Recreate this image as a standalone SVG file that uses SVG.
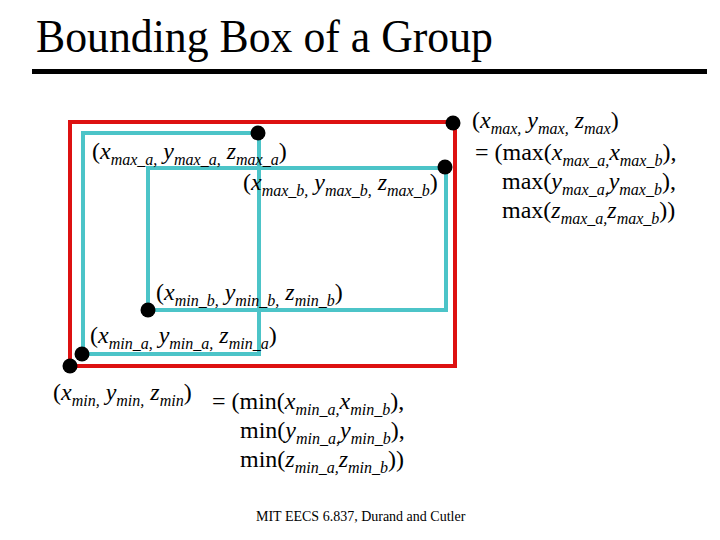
<svg xmlns="http://www.w3.org/2000/svg" width="720" height="540" viewBox="0 0 720 540">
<style>
.t{font-size:24px;fill:#000}
.i{font-style:italic}
.s{font-size:16px;font-style:italic}
.red{fill:none;stroke:#dd1111;stroke-width:4}
.teal{fill:none;stroke:#4cc4c8;stroke-width:4}
.dot{fill:#000}
</style>
<rect width="720" height="540" fill="#fff"/>
<g font-family="Liberation Serif">
<g id="title">
<text x="36" y="52" font-size="47" textLength="457" lengthAdjust="spacingAndGlyphs">Bounding Box of a Group</text>
<line x1="32" y1="71.5" x2="707" y2="71.5" stroke="#000" stroke-width="5"/>
</g>
<g id="box-group"><rect class="red" x="70" y="122" width="385" height="244"/></g>
<g id="box-a"><rect class="teal" x="83" y="133" width="176" height="221"/></g>
<g id="box-b"><rect class="teal" x="148" y="168" width="298" height="142"/></g>
<g id="connectors"></g>
<g id="dots">
<circle class="dot" cx="258" cy="133" r="7.5"/>
<circle class="dot" cx="445" cy="167" r="7.5"/>
<circle class="dot" cx="453" cy="123" r="7.5"/>
<circle class="dot" cx="148" cy="310" r="7.5"/>
<circle class="dot" cx="82" cy="354" r="7.5"/>
<circle class="dot" cx="70" cy="366" r="7.5"/>
</g>
<g id="label-max-a"><text class="t" x="92" y="159">(<tspan class="i">x</tspan><tspan class="s" dy="6">max_a</tspan><tspan class="s">,</tspan><tspan dy="-6"> </tspan><tspan class="i">y</tspan><tspan class="s" dy="6">max_a</tspan><tspan class="s">,</tspan><tspan dy="-6"> </tspan><tspan class="i">z</tspan><tspan class="s" dy="6">max_a</tspan><tspan dy="-6">)</tspan></text></g>
<g id="label-max-b"><text class="t" x="243" y="190">(<tspan class="i">x</tspan><tspan class="s" dy="6">max_b</tspan><tspan class="s">,</tspan><tspan dy="-6"> </tspan><tspan class="i">y</tspan><tspan class="s" dy="6">max_b</tspan><tspan class="s">,</tspan><tspan dy="-6"> </tspan><tspan class="i">z</tspan><tspan class="s" dy="6">max_b</tspan><tspan dy="-6">)</tspan></text></g>
<g id="label-min-b"><text class="t" x="156" y="300">(<tspan class="i">x</tspan><tspan class="s" dy="6">min_b</tspan><tspan class="s">,</tspan><tspan dy="-6"> </tspan><tspan class="i">y</tspan><tspan class="s" dy="6">min_b</tspan><tspan class="s">,</tspan><tspan dy="-6"> </tspan><tspan class="i">z</tspan><tspan class="s" dy="6">min_b</tspan><tspan dy="-6">)</tspan></text></g>
<g id="label-min-a"><text class="t" x="90" y="343">(<tspan class="i">x</tspan><tspan class="s" dy="6">min_a</tspan><tspan class="s">,</tspan><tspan dy="-6"> </tspan><tspan class="i">y</tspan><tspan class="s" dy="6">min_a</tspan><tspan class="s">,</tspan><tspan dy="-6"> </tspan><tspan class="i">z</tspan><tspan class="s" dy="6">min_a</tspan><tspan dy="-6">)</tspan></text></g>
<g id="label-max">
<text class="t" x="472" y="128">(<tspan class="i">x</tspan><tspan class="s" dy="6">max</tspan><tspan class="s">,</tspan><tspan dy="-6"> </tspan><tspan class="i">y</tspan><tspan class="s" dy="6">max</tspan><tspan class="s">,</tspan><tspan dy="-6"> </tspan><tspan class="i">z</tspan><tspan class="s" dy="6">max</tspan><tspan dy="-6">)</tspan></text>
<text class="t" x="475" y="160">= (max(<tspan class="i">x</tspan><tspan class="s" dy="6">max_a</tspan><tspan class="s">,</tspan><tspan class="i" dy="-6">x</tspan><tspan class="s" dy="6">max_b</tspan><tspan dy="-6">),</tspan></text>
<text class="t" x="502" y="189">max(<tspan class="i">y</tspan><tspan class="s" dy="6">max_a</tspan><tspan class="s">,</tspan><tspan class="i" dy="-6">y</tspan><tspan class="s" dy="6">max_b</tspan><tspan dy="-6">),</tspan></text>
<text class="t" x="502" y="218">max(<tspan class="i">z</tspan><tspan class="s" dy="6">max_a</tspan><tspan class="s">,</tspan><tspan class="i" dy="-6">z</tspan><tspan class="s" dy="6">max_b</tspan><tspan dy="-6">))</tspan></text>
</g>
<g id="label-min">
<text class="t" x="53" y="400">(<tspan class="i">x</tspan><tspan class="s" dy="6">min</tspan><tspan class="s">,</tspan><tspan dy="-6"> </tspan><tspan class="i">y</tspan><tspan class="s" dy="6">min</tspan><tspan class="s">,</tspan><tspan dy="-6"> </tspan><tspan class="i">z</tspan><tspan class="s" dy="6">min</tspan><tspan dy="-6">)</tspan></text>
<text class="t" x="212" y="409">= (min(<tspan class="i">x</tspan><tspan class="s" dy="6">min_a</tspan><tspan class="s">,</tspan><tspan class="i" dy="-6">x</tspan><tspan class="s" dy="6">min_b</tspan><tspan dy="-6">),</tspan></text>
<text class="t" x="240" y="438">min(<tspan class="i">y</tspan><tspan class="s" dy="6">min_a</tspan><tspan class="s">,</tspan><tspan class="i" dy="-6">y</tspan><tspan class="s" dy="6">min_b</tspan><tspan dy="-6">),</tspan></text>
<text class="t" x="240" y="467">min(<tspan class="i">z</tspan><tspan class="s" dy="6">min_a</tspan><tspan class="s">,</tspan><tspan class="i" dy="-6">z</tspan><tspan class="s" dy="6">min_b</tspan><tspan dy="-6">))</tspan></text>
</g>
<g id="footer"><text x="256" y="521" font-size="14">MIT EECS 6.837, Durand and Cutler</text></g>
</g>
</svg>
